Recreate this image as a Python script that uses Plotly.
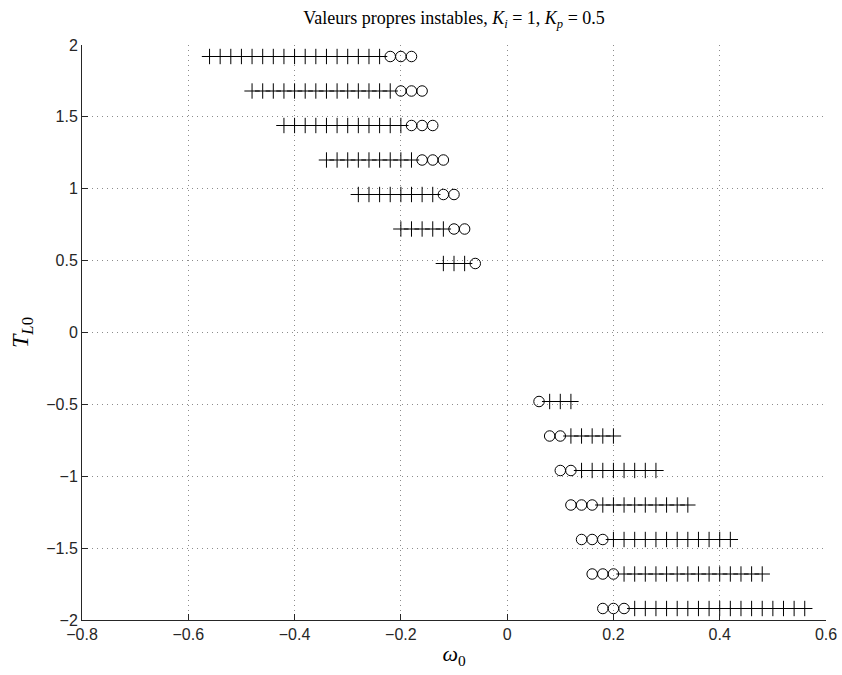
import plotly.graph_objects as go

# Rows of the chart (T_L0 values)
tl0_rows = [1.92, 1.68, 1.44, 1.20, 0.96, 0.72, 0.48,
            -0.48, -0.72, -0.96, -1.20, -1.44, -1.68, -1.92]

# omega_0 positions of the "+" markers for each row
plus_omega = [
    [-0.56, -0.54, -0.52, -0.50, -0.48, -0.46, -0.44, -0.42, -0.40, -0.38, -0.36, -0.34, -0.32, -0.30, -0.28, -0.26, -0.24],
    [-0.48, -0.46, -0.44, -0.42, -0.40, -0.38, -0.36, -0.34, -0.32, -0.30, -0.28, -0.26, -0.24, -0.22],
    [-0.42, -0.40, -0.38, -0.36, -0.34, -0.32, -0.30, -0.28, -0.26, -0.24, -0.22, -0.20],
    [-0.34, -0.32, -0.30, -0.28, -0.26, -0.24, -0.22, -0.20, -0.18],
    [-0.28, -0.26, -0.24, -0.22, -0.20, -0.18, -0.16, -0.14],
    [-0.20, -0.18, -0.16, -0.14, -0.12],
    [-0.12, -0.10, -0.08],
    [0.08, 0.10, 0.12],
    [0.12, 0.14, 0.16, 0.18, 0.20],
    [0.14, 0.16, 0.18, 0.20, 0.22, 0.24, 0.26, 0.28],
    [0.18, 0.20, 0.22, 0.24, 0.26, 0.28, 0.30, 0.32, 0.34],
    [0.20, 0.22, 0.24, 0.26, 0.28, 0.30, 0.32, 0.34, 0.36, 0.38, 0.40, 0.42],
    [0.22, 0.24, 0.26, 0.28, 0.30, 0.32, 0.34, 0.36, 0.38, 0.40, 0.42, 0.44, 0.46, 0.48],
    [0.24, 0.26, 0.28, 0.30, 0.32, 0.34, 0.36, 0.38, 0.40, 0.42, 0.44, 0.46, 0.48, 0.50, 0.52, 0.54, 0.56],
]

# omega_0 positions of the "o" markers for each row
circle_omega = [
    [-0.22, -0.20, -0.18],
    [-0.20, -0.18, -0.16],
    [-0.18, -0.16, -0.14],
    [-0.16, -0.14, -0.12],
    [-0.12, -0.10],
    [-0.10, -0.08],
    [-0.06],
    [0.06],
    [0.08, 0.10],
    [0.10, 0.12],
    [0.12, 0.14, 0.16],
    [0.14, 0.16, 0.18],
    [0.16, 0.18, 0.20],
    [0.18, 0.20, 0.22],
]

x_ticks = [-0.8, -0.6, -0.4, -0.2, 0, 0.2, 0.4, 0.6]
y_ticks = [-2, -1.5, -1, -0.5, 0, 0.5, 1, 1.5, 2]

px, py, cx, cy = [], [], [], []
for t, ps, cs in zip(tl0_rows, plus_omega, circle_omega):
    px += ps
    py += [t] * len(ps)
    cx += cs
    cy += [t] * len(cs)

fig = go.Figure()
fig.add_trace(go.Scatter(
    x=px, y=py, mode="markers", showlegend=False, cliponaxis=False,
    marker=dict(symbol="cross-thin-open", size=11, color="black",
                line=dict(color="black", width=1)),
))
fig.add_trace(go.Scatter(
    x=cx, y=cy, mode="markers", showlegend=False, cliponaxis=False,
    marker=dict(symbol="circle-open", size=10.5, color="black",
                line=dict(color="black", width=1)),
))

axis_common = dict(
    showline=True, linecolor="#262626", linewidth=1, mirror=False,
    ticks="inside", ticklen=6, tickcolor="#262626", tickwidth=1,
    showgrid=True, gridcolor="#8c8c8c", griddash="1px,4px", gridwidth=1,
    zeroline=False, automargin=False,
    tickfont=dict(family="Liberation Sans, Arial, sans-serif", size=16, color="#262626"),
)

fig.update_layout(
    width=842, height=675,
    margin=dict(l=82, r=16, t=45, b=55, pad=0),
    paper_bgcolor="white", plot_bgcolor="white",
    title=dict(
        text="Valeurs propres instables, <i>K</i><sub><i>i</i></sub> = 1, <i>K</i><sub><i>p</i></sub> = 0.5",
        font=dict(family="Liberation Serif, Times New Roman, serif", size=18, color="black"),
        x=0.5, xanchor="center", xref="paper",
        y=1 - 18 / 675, yanchor="middle", yref="container",
    ),
    xaxis=dict(
        range=[-0.8, 0.6], tickvals=x_ticks,
        ticktext=[("\u2212" if v < 0 else "") + ("%g" % abs(v)) for v in x_ticks],
        title=dict(text="<i>ω</i><sub>0</sub>", standoff=3,
                   font=dict(family="Liberation Serif, Times New Roman, serif", size=22, color="black")),
        **axis_common,
    ),
    yaxis=dict(
        range=[-2, 2], tickvals=y_ticks,
        ticktext=[("\u2212" if v < 0 else "") + ("%g" % abs(v)) for v in y_ticks],
        title=dict(text="<i>T</i><sub><i>L</i>0</sub>", standoff=10,
                   font=dict(family="Liberation Serif, Times New Roman, serif", size=24, color="black")),
        **axis_common,
    ),
)

fig.write_html("out.html")
